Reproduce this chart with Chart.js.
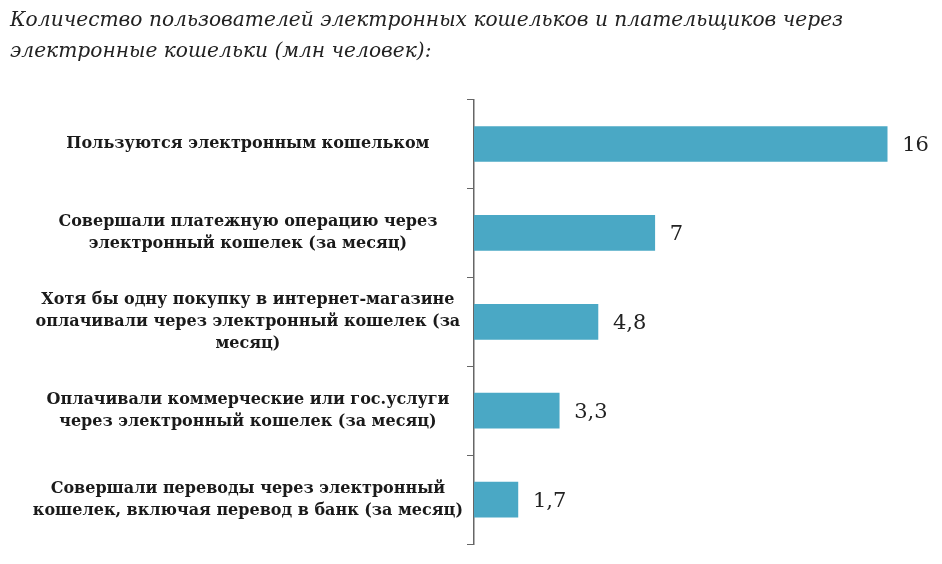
<!DOCTYPE html>
<html>
<head>
<meta charset="utf-8">
<script src="https://cdn.jsdelivr.net/npm/chart.js@4"></script>
<style>
  html, body { margin: 0; padding: 0; background: #ffffff; }
  #wrap { width: 942px; height: 564px; }
</style>
</head>
<body>
<div id="wrap"><canvas id="walletChart"></canvas></div>
<script>
const categories = [
    ['Пользуются электронным кошельком'],
    ['Совершали платежную операцию через', 'электронный кошелек (за месяц)'],
    ['Хотя бы одну покупку в интернет-магазине', 'оплачивали через электронный кошелек (за', 'месяц)'],
    ['Оплачивали коммерческие или гос.услуги', 'через электронный кошелек (за месяц)'],
    ['Совершали переводы через электронный', 'кошелек, включая перевод в банк (за месяц)'],
];
const values = [16, 7, 4.8, 3.3, 1.7];
const valueLabels = ['16', '7', '4,8', '3,3', '1,7'];

const ctx = document.getElementById('walletChart');

// numbers to the right of each bar
const barValues = {
    id: 'barValues',
    afterDatasetsDraw(chart) {
        const c = chart.ctx;
        const meta = chart.getDatasetMeta(0);
        c.save();
        c.font = '21px "DejaVu Serif"';
        c.fillStyle = '#222';
        c.textBaseline = 'middle';
        c.textAlign = 'left';
        meta.data.forEach((bar, i) => {
            c.fillText(valueLabels[i], bar.x + 15, bar.y + 2);
        });
        c.restore();
    }
};

new Chart(ctx, {
    type: 'bar',
    data: {
        labels: categories,
        datasets: [{
            data: values,
            backgroundColor: '#4aa8c5',
            barThickness: 35,
        }]
    },
    plugins: [barValues],
    options: {
        indexAxis: 'y',
        responsive: true,
        maintainAspectRatio: false,
        animation: false,
        layout: {
            padding: { left: 10, right: 29, top: 0, bottom: 20 }
        },
        plugins: {
            legend: { display: false },
            tooltip: { enabled: false },
            title: {
                display: true,
                text: ['Количество пользователей электронных кошельков и плательщиков через',
                       'электронные кошельки (млн человек):'],
                align: 'start',
                color: '#222',
                padding: { top: 6, bottom: 33 },
                font: {
                    family: 'DejaVu Serif',
                    style: 'italic',
                    weight: 'normal',
                    size: 20.2,
                    lineHeight: 1.5,
                }
            },
        },
        scales: {
            x: {
                display: false,
                min: 0,
                max: 17,
            },
            y: {
                afterFit(scale) { scale.width = 464; },
                grid: {
                    drawOnChartArea: false,
                    drawTicks: true,
                    tickLength: 7,
                    tickColor: '#666',
                    offset: true,
                },
                border: {
                    display: true,
                    color: '#666',
                    width: 1.5,
                },
                ticks: {
                    color: '#1a1a1a',
                    crossAlign: 'center',
                    padding: 4,
                    font: {
                        family: 'DejaVu Serif',
                        weight: 'bold',
                        size: 16,
                        lineHeight: 1.4,
                    }
                }
            }
        }
    }
});
</script>
</body>
</html>
